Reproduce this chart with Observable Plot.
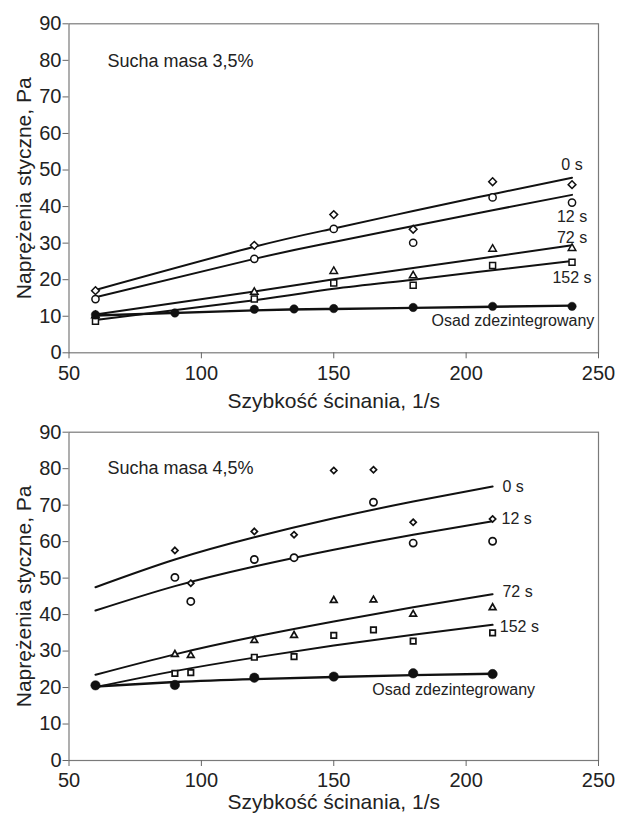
<!DOCTYPE html>
<html><head><meta charset="utf-8">
<script src="https://cdn.jsdelivr.net/npm/d3@7"></script>
<script src="https://cdn.jsdelivr.net/npm/@observablehq/plot@0.6"></script>
<style>body{margin:0;background:#fff} svg{display:block}</style>
</head><body><div id="chart"></div><script>
// ---------- shared ticks / text ----------
const xTicks = [50, 100, 150, 200, 250];
const yTicks = [0, 10, 20, 30, 40, 50, 60, 70, 80, 90];
const xTitle = "Szybkość ścinania, 1/s";
const yTitle = "Naprężenia styczne, Pa";
const seriesNames = ["0 s", "12 s", "72 s", "152 s", "Osad zdezintegrowany"];

// ---------- top panel: Sucha masa 3,5% ----------
const A_title = "Sucha masa 3,5%";
const A_x = [60, 120, 150, 180, 210, 240];
const A_0s = [17.0, 29.4, 37.8, 33.8, 46.8, 46.0];
const A_12s = [14.7, 25.7, 33.9, 30.1, 42.5, 41.1];
const A_72s = [10.2, 16.6, 22.3, 21.1, 28.4, 28.6];
const A_152s = [8.6, 14.7, 19.1, 18.5, 23.9, 24.8];
const A_osadX = [60, 90, 120, 135, 150, 180, 210, 240];
const A_osad = [10.4, 10.9, 11.9, 12.0, 12.1, 12.4, 12.7, 12.7];
const A_fitX = [60, 120, 150, 180, 210, 240];
const A_fit0 = [17.2, 29.0, 34.0, 38.8, 43.4, 47.9];
const A_fit12 = [15.2, 25.7, 30.3, 34.7, 39.0, 43.2];
const A_fit72 = [10.5, 16.8, 20.1, 23.2, 26.3, 29.4];
const A_fit152 = [9.0, 14.4, 17.5, 20.0, 22.6, 25.1];
const A_fitOsad = [10.2, 11.6, 12.0, 12.3, 12.6, 12.9];
const A_labelX = [240, 240, 240, 240, 217.7];
const A_labelY = [51.5, 37.1, 31.5, 20.5, 8.8];

// ---------- bottom panel: Sucha masa 4,5% ----------
const B_title = "Sucha masa 4,5%";
const B_x = [90, 96, 120, 135, 150, 165, 180, 210];
const B_0s = [57.6, 48.6, 62.8, 61.9, 79.5, 79.7, 65.3, 66.2];
const B_12s = [50.2, 43.6, 55.1, 55.6, null, 70.8, 59.6, 60.1];
const B_72s = [29.1, 28.8, 32.9, 34.3, 43.9, 44.0, 40.1, 41.9];
const B_152s = [23.9, 24.1, 28.3, 28.5, 34.3, 35.8, 32.7, 35.0];
const B_osadX = [60, 90, 120, 150, 180, 210];
const B_osad = [20.6, 20.7, 22.7, 23.0, 23.9, 23.7];
const B_fitX = [60, 90, 120, 150, 180, 210];
const B_fit0 = [47.5, 55.1, 61.2, 66.4, 71.0, 75.1];
const B_fit12 = [41.1, 47.8, 53.2, 57.8, 61.9, 65.6];
const B_fit72 = [23.5, 29.1, 33.9, 38.1, 42.0, 45.6];
const B_fit152 = [20.1, 24.5, 28.2, 31.5, 34.5, 37.2];
const B_fitOsad = [20.3, 21.5, 22.3, 22.9, 23.4, 23.8];
const B_labelX = [213.7, 213.4, 213.7, 212.7, 195.3];
const B_labelY = [75.1, 66.3, 46.1, 36.7, 19.4];

const pts = (xs, ys) => xs.map((x, i) => ({x, y: ys[i]})).filter(d => d.y != null);
const FONT = "'Liberation Sans', Arial, Helvetica, sans-serif";

function panel(cfg) {
  const labels = seriesNames.map((t, i) => ({t, x: cfg.labelX[i], y: cfg.labelY[i], i}));
  const timeLabels = labels.filter(d => d.i < 4);
  const osadLabel = labels.filter(d => d.i === 4);
  const lineOpts = {x: "x", y: "y", stroke: "#111", strokeWidth: 2, curve: "natural"};
  const hollow = (data, symbol, r, sw) => Plot.dot(data, {x: "x", y: "y", symbol, r, stroke: "#111", fill: "white", strokeWidth: sw});
  return Plot.plot({
    width: 617, height: cfg.height,
    marginLeft: 68.5, marginRight: 19, marginTop: cfg.mt, marginBottom: cfg.mb,
    x: {domain: [50, 250]},
    y: {domain: [0, 90]},
    style: {fontFamily: FONT, background: "white", color: "#222", overflow: "visible"},
    marks: [
      Plot.frame({stroke: "#7a7a7a", strokeWidth: 1.2}),
      Plot.axisX({ticks: xTicks, tickSize: 6, tickPadding: cfg.xPad, fontSize: 20, label: null, stroke: "#666", fill: "#222"}),
      Plot.axisY({ticks: yTicks, tickSize: 6, tickPadding: 1.5, fontSize: 20, label: null, stroke: "#666", fill: "#222"}),
      Plot.text([xTitle], {frameAnchor: "bottom", dy: cfg.xTitleDy, lineAnchor: "middle", textAnchor: "middle", fontSize: 21, fill: "#222"}),
      Plot.text([yTitle], {frameAnchor: "left", dx: -45, rotate: -90, lineAnchor: "middle", textAnchor: "middle", fontSize: 21, fill: "#222"}),
      Plot.text([cfg.title], {x: 64.5, y: cfg.titleY, textAnchor: "start", fontSize: 18, fill: "#222"}),
      Plot.line(pts(cfg.fitX, cfg.fit0), lineOpts),
      Plot.line(pts(cfg.fitX, cfg.fit12), lineOpts),
      Plot.line(pts(cfg.fitX, cfg.fit72), lineOpts),
      Plot.line(pts(cfg.fitX, cfg.fit152), lineOpts),
      Plot.line(pts(cfg.fitX, cfg.fitOsad), {...lineOpts, strokeWidth: 2.4}),
      hollow(pts(cfg.x, cfg.s72), "triangle2", cfg.rTri, cfg.sw),
      hollow(pts(cfg.x, cfg.s152), "square2", cfg.rSq, cfg.sw),
      hollow(pts(cfg.x, cfg.s12), "circle", cfg.rCirc, cfg.sw),
      hollow(pts(cfg.x, cfg.s0), "diamond2", cfg.rDia, cfg.sw),
      Plot.dot(pts(cfg.osadX, cfg.osad), {x: "x", y: "y", r: cfg.rFill, fill: "#111", stroke: "#111", strokeWidth: 0.5}),
      Plot.text(timeLabels, {x: "x", y: "y", text: "t", fontSize: 16, fill: "#222", textAnchor: cfg.labelAnchor}),
      Plot.text(osadLabel, {x: "x", y: "y", text: "t", fontSize: 16, fill: "#222", textAnchor: "middle"})
    ]
  });
}

const topPanel = panel({
  height: 420, mt: 23.3, mb: 67.7, xTitleDy: 48.5, xPad: 7,
  title: A_title, titleY: 79.7,
  x: A_x, s0: A_0s, s12: A_12s, s72: A_72s, s152: A_152s,
  osadX: A_osadX, osad: A_osad,
  fitX: A_fitX, fit0: A_fit0, fit12: A_fit12, fit72: A_fit72, fit152: A_fit152, fitOsad: A_fitOsad,
  labelX: A_labelX, labelY: A_labelY, labelAnchor: "middle",
  rTri: 3.6, rSq: 3.8, rCirc: 3.6, rDia: 3.5, rFill: 4.2, sw: 1.5
});
const bottomPanel = panel({
  height: 393, mt: 11.7, mb: 53, xTitleDy: 41.3, xPad: 6,
  title: B_title, titleY: 80.0,
  x: B_x, s0: B_0s, s12: B_12s, s72: B_72s, s152: B_152s,
  osadX: B_osadX, osad: B_osad,
  fitX: B_fitX, fit0: B_fit0, fit12: B_fit12, fit72: B_fit72, fit152: B_fit152, fitOsad: B_fitOsad,
  labelX: B_labelX, labelY: B_labelY, labelAnchor: "start",
  rTri: 3.2, rSq: 3.5, rCirc: 3.6, rDia: 2.8, rFill: 4.7, sw: 1.7
});
const host = document.getElementById("chart");
host.appendChild(topPanel);
host.appendChild(bottomPanel);
</script></body></html>
